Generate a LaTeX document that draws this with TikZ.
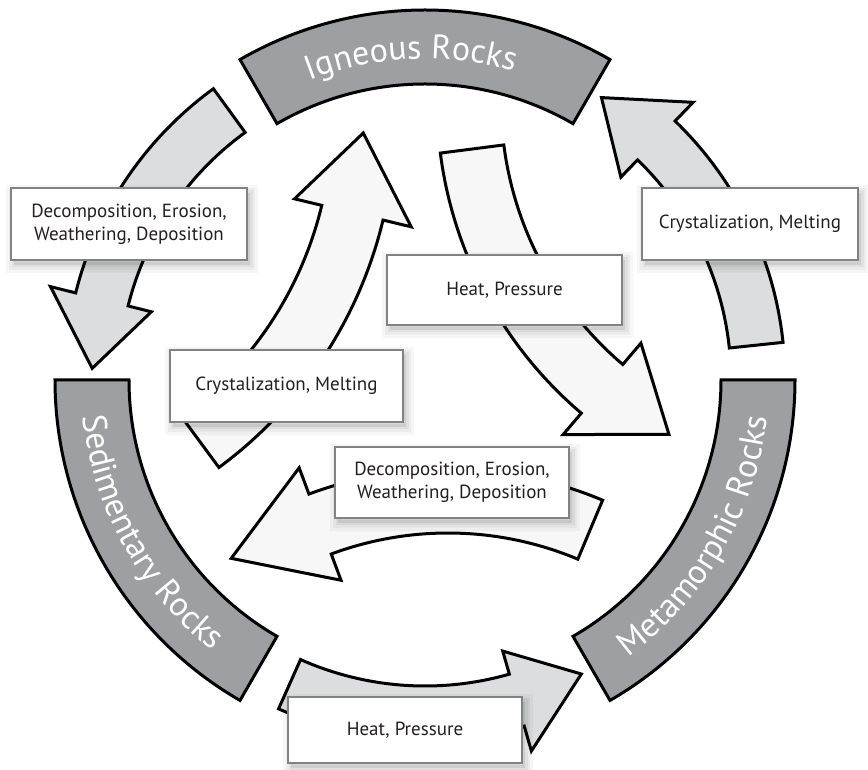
\documentclass[tikz,border=0pt]{standalone}
\usepackage{fontspec}
\setmainfont{PT Sans}
\usetikzlibrary{decorations.text,shadows}
\definecolor{bandgray}{RGB}{157,159,162}
\definecolor{outerfill}{RGB}{220,221,223}
\definecolor{innerfill}{RGB}{247,247,247}
\definecolor{boxline}{RGB}{128,130,133}
\definecolor{inktext}{RGB}{35,31,32}
\newcommand{\bandfont}{\fontsize{34}{34}\selectfont}
\newcommand{\boxfont}{\fontsize{19}{22.6}\selectfont}
% #1 rin, #2 rout, #3 head in, #4 head out, #5 tail angle, #6 head base angle, #7 tip angle, #8 tip radius, #9 style
\newcommand{\arcarrow}[9]{%
  \path[#9] (#5:#1pt) arc[start angle=#5, end angle=#6, radius=#1pt]
    -- (#6:#3pt) -- (#7:#8pt) -- (#6:#4pt) -- (#6:#2pt)
    arc[start angle=#6, end angle=#5, radius=#2pt] -- cycle;}
\newcommand{\bandsector}[1]{%
  \path[band] (#1:296pt) arc[start angle=#1, end angle={#1+60}, radius=296pt]
    -- ({#1+60}:370pt) arc[start angle={#1+60}, end angle=#1, radius=370pt] -- cycle;}
\begin{document}
\begin{tikzpicture}[x=1pt,y=1pt,
  band/.style={fill=bandgray, draw=black, line width=3pt, line join=miter},
  outerarrow/.style={fill=outerfill, draw=black, line width=3pt, line join=miter},
  innerarrow/.style={fill=innerfill, draw=black, line width=3pt, line join=miter},
  bandtext/.style={decorate, decoration={text along path, text align=center,
      text color=white, text={|\bandfont|#1}}},
  labelbox/.style={rectangle, draw=boxline, line width=2.6pt, fill=white,
    text=inktext, align=center, inner sep=0pt, font=\boxfont,
    drop shadow={shadow xshift=3pt, shadow yshift=-5pt, fill=none, draw=black, draw opacity=0.035, line width=16pt},
    drop shadow={shadow xshift=3pt, shadow yshift=-5pt, fill=none, draw=black, draw opacity=0.04, line width=10pt},
    drop shadow={shadow xshift=3pt, shadow yshift=-5pt, fill=none, draw=black, draw opacity=0.05, line width=5pt},
    drop shadow={shadow xshift=3pt, shadow yshift=-5pt, fill=black, fill opacity=0.08, draw=none}}
]
\useasboundingbox (0,0) rectangle (868,770);
\coordinate (O) at (425,390);

% outer ring: bands and arrows
\begin{scope}[shift={(O)}]
  \bandsector{60}
  \bandsector{180}
  \bandsector{300}
  \arcarrow{306}{360}{282}{386}{126}{166}{178}{333}{outerarrow}
  \arcarrow{306}{360}{282}{386}{246}{286}{298}{333}{outerarrow}
  \arcarrow{306}{360}{282}{386}{6}{46}{58}{333}{outerarrow}
\end{scope}

% inner arrows
\begin{scope}[shift={(-38,651)}]
  \arcarrow{370}{433}{342}{462}{-53.6}{-13.5}{-2}{401.5}{innerarrow}
\end{scope}
\begin{scope}[shift={(847,669)}]
  \arcarrow{346}{410}{318}{438}{187.3}{229.6}{241.9}{378}{innerarrow}
\end{scope}
\begin{scope}[shift={(448,-98)}]
  \arcarrow{335}{399}{307}{427}{67.2}{110.4}{125}{378}{innerarrow}
\end{scope}

% band labels
\begin{scope}[shift={(O)}]
  \path[bandtext={Igneous Rocks}] (122.5:321pt) arc[start angle=122.5, end angle=62.5, radius=321pt];
  \path[bandtext={Sedimentary Rocks}] (179:344pt) arc[start angle=179, end angle=239, radius=344pt];
  \path[bandtext={Metamorphic Rocks}] (300:344pt) arc[start angle=300, end angle=360, radius=344pt];
\end{scope}

% label boxes
\node[labelbox, minimum width=236pt, minimum height=72pt] (igsed) at (129,546) {Decomposition, Erosion,\\Weathering, Deposition};
\node[labelbox, minimum width=216pt, minimum height=72pt] (metig) at (750,546) {Crystalization, Melting};
\node[labelbox, minimum width=235pt, minimum height=70pt] (igmet) at (504.5,480) {Heat, Pressure};
\node[labelbox, minimum width=233pt, minimum height=72pt] (sedig) at (286.5,384) {Crystalization, Melting};
\node[labelbox, minimum width=234pt, minimum height=71pt] (metsed) at (452,287.5) {Decomposition, Erosion,\\Weathering, Deposition};
\node[labelbox, minimum width=234pt, minimum height=66pt] (sedmet) at (405,40) {Heat, Pressure};
\end{tikzpicture}
\end{document}
